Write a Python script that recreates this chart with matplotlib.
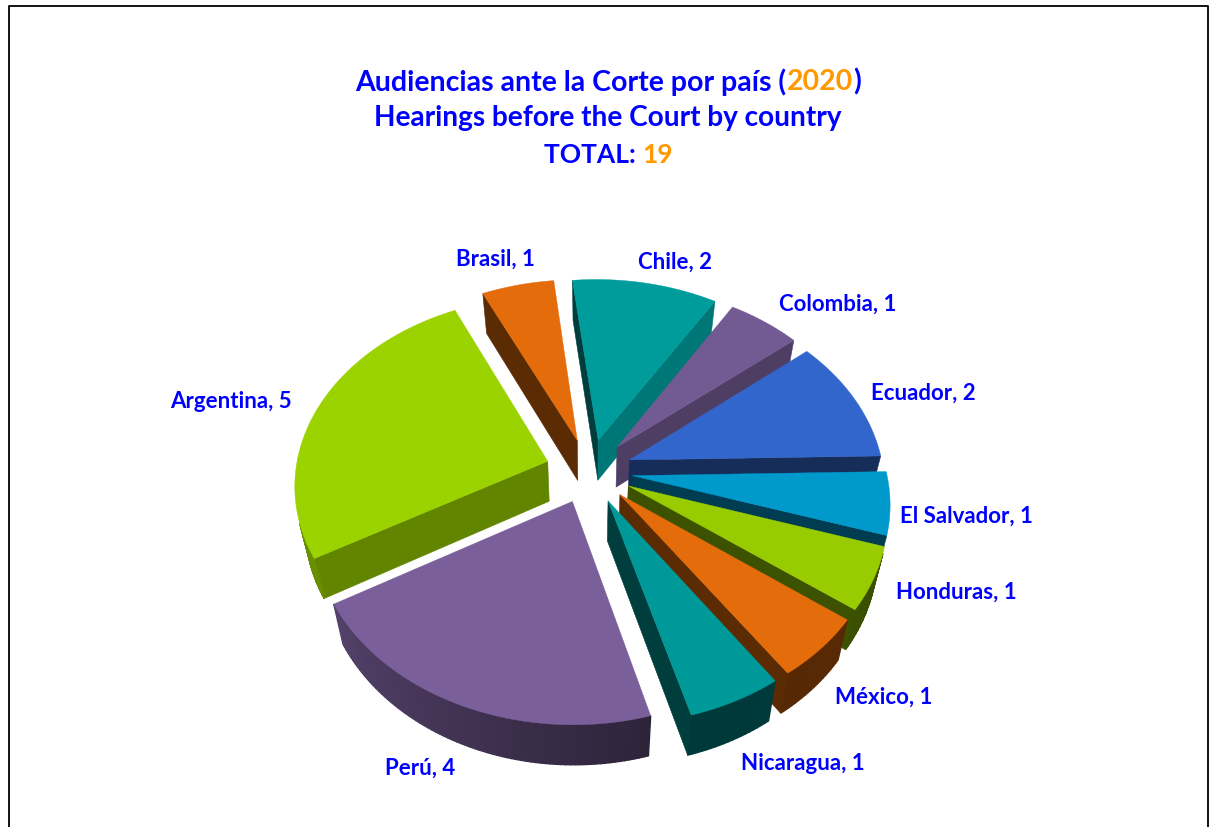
import numpy as np
import matplotlib
matplotlib.use("Agg")
import matplotlib.pyplot as plt
from matplotlib.colors import to_rgb

plt.rcParams["font.family"] = ["Lato", "DejaVu Sans"]
plt.rcParams["font.weight"] = "bold"

# data, clockwise from the 0 degree line going round to Ecuador
countries = ["El Salvador", "Honduras", "México", "Nicaragua", "Perú",
             "Argentina", "Brasil", "Chile", "Colombia", "Ecuador"]
hearings = [1, 1, 1, 1, 4, 5, 1, 2, 1, 2]
colors = ["#0099CC", "#99CC00", "#E46C0A", "#009999", "#7A5F9A",
          "#9BD300", "#E46C0A", "#009B9B", "#725A92", "#3366CC"]
label_xy = [(966, 516), (956, 592), (884, 697), (803, 763), (420, 768),
            (231, 401), (495, 259), (675, 262), (838, 304), (923, 393)]

BLUE = "#0000FF"
ORANGE = "#FF9900"

# projection of the tilted pie
cx, cy = 589, 471
rx, ry = 253, 187.6
persp = 0.1236
explode = 0.172
depth = 40
shrink = 0.964
skew_x, skew_y = 0.04, 0.016  # the whole pie sits slightly rotated


def project(x, y, low=False):
    s = 1 / (1 + persp * y)
    px = rx * x * s
    py = ry * y * s
    sx = px - skew_x * py
    sy = -py - skew_y * px
    if low:
        return cx + sx * shrink, cy + sy + depth
    return cx + sx, cy + sy


def area(pts):
    pts = np.asarray(pts)
    x, y = pts[:, 0], pts[:, 1]
    return 0.5 * np.sum(x * np.roll(y, -1) - np.roll(x, -1) * y)


def shaded(color, k):
    return tuple(c * k for c in to_rgb(color))


def arc_shade(deg):
    # light comes from the left on the rim
    d = (deg + 360) % 360
    return np.interp(d, [150, 210, 285, 360], [0.68, 0.68, 0.37, 0.40])


def flat_shade(normal):
    return 0.40 + 0.42 * max(0, np.cos(np.radians(normal + 5)))


fig = plt.figure(figsize=(12.17, 8.27), dpi=100)
ax = fig.add_axes([0, 0, 1, 1])
ax.set_xlim(0, 1217)
ax.set_ylim(827, 0)
ax.axis("off")

# frame, open at the bottom
ax.plot([8.5, 8.5, 1208, 1208], [827, 5.5, 5.5, 827], color="black", lw=1.3)

total = sum(hearings)
sweeps = np.array(hearings) / total * 360
ends = -np.cumsum(sweeps)
starts = ends + sweeps
mids = (starts + ends) / 2

order = np.argsort(-np.sin(np.radians(mids)))
for i in order:
    ox = explode * np.cos(np.radians(mids[i]))
    oy = explode * np.sin(np.radians(mids[i]))
    angles = np.linspace(starts[i], ends[i], int(sweeps[i]) + 2)
    wx = np.r_[ox, ox + np.cos(np.radians(angles))]
    wy = np.r_[oy, oy + np.sin(np.radians(angles))]
    top = [project(a, b) for a, b in zip(wx, wy)]
    low = [project(a, b, low=True) for a, b in zip(wx, wy)]
    sign = np.sign(area(top))
    n = len(top)
    for j in range(n):
        k = (j + 1) % n
        quad = [top[j], top[k], low[k], low[j]]
        if np.sign(area(quad)) == sign:
            continue
        if j == 0:
            shade, lw = flat_shade(starts[i] + 90), 0.4
        elif j == n - 1:
            shade, lw = flat_shade(ends[i] - 90), 0.4
        else:
            shade, lw = arc_shade((angles[j - 1] + angles[j]) / 2), 1.0
        ax.fill(*zip(*quad), color=shaded(colors[i], shade), lw=lw)
    ax.fill(*zip(*top), color=colors[i], lw=0.3)

for name, value, (lx, ly) in zip(countries, hearings, label_xy):
    ax.text(lx, ly, f"{name}, {value}", color=BLUE, fontsize=16,
            ha="center", va="center")


def title_line(y, parts, size):
    # centred line with coloured runs
    r = fig.canvas.get_renderer()
    items = [ax.text(0, y, s, color=c, fontsize=size, va="center", ha="left") for s, c in parts]
    widths = [t.get_window_extent(r).width for t in items]
    x = 608 - sum(widths) / 2
    for t, w in zip(items, widths):
        t.set_x(x)
        x += w


title_line(82, [("Audiencias ante la Corte por país (", BLUE), ("2020", ORANGE), (")", BLUE)], 20.5)
title_line(118, [("Hearings before the Court by country", BLUE)], 20.2)
title_line(155, [("TOTAL: ", BLUE), (str(total), ORANGE)], 19)

fig.savefig("out.png", dpi=100, facecolor="white")
